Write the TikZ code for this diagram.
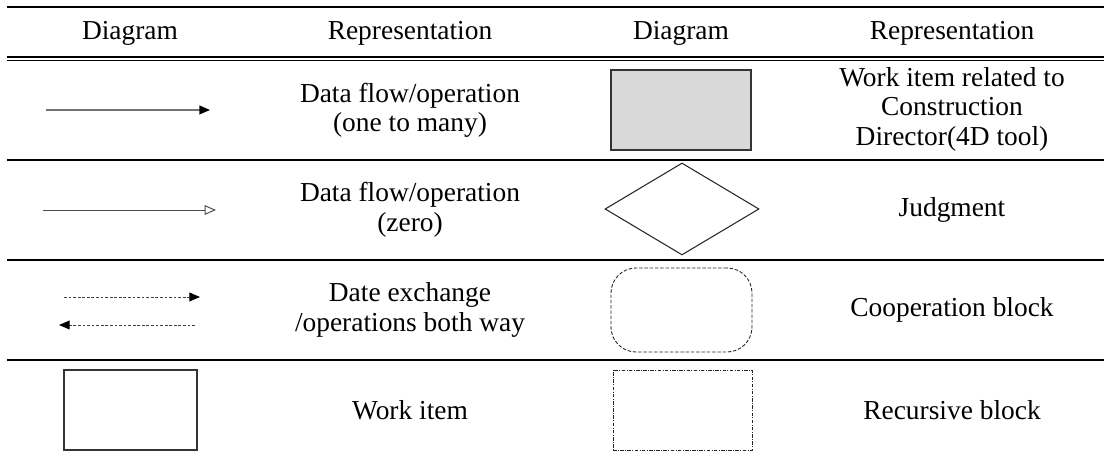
\documentclass[tikz,border=0pt]{standalone}
\usepackage{fontspec}
\setmainfont{Liberation Serif}
\usetikzlibrary{arrows.meta,shapes.geometric}

\tikzset{
  every node/.style={font=\fontsize{15.6}{16.8}\selectfont},
  tablerule/.style={line width=1.1pt},
  flowfull/.style={line width=0.7pt, black!55,
      -{Triangle[color=black, length=6pt, width=5pt]}},
  flowzero/.style={line width=0.55pt, black!70,
      -{Triangle[open, length=6.5pt, width=5.5pt]}},
  flowboth/.style={line width=0.5pt, black!75, dash pattern=on 1.6pt off 1pt,
      -{Triangle[color=black, length=6pt, width=5pt]}},
  itembox/.style={draw=black!80, line width=0.6pt, inner sep=0, outer sep=0},
}

\begin{document}
\begin{tikzpicture}
\useasboundingbox (0,0) rectangle (22.08,9.16);

% rules of the table
\draw[line width=1.4pt] (0.14, 9.02) -- (22.08, 9.02);
\draw[line width=0.8pt] (0.14, 8.02) -- (22.08, 8.02);
\draw[line width=0.8pt] (0.14, 7.95) -- (22.08, 7.95);
\draw[tablerule] (0.14, 5.96) -- (22.08, 5.96);
\draw[tablerule] (0.14, 3.96) -- (22.08, 3.96);
\draw[tablerule] (0.14, 1.96) -- (22.08, 1.96);

% header
\node[anchor=base] (diagA) at ( 2.60, 8.36) {Diagram};
\node[anchor=base] (reprA) at ( 8.20, 8.36) {Representation};
\node[anchor=base] (diagB) at (13.62, 8.36) {Diagram};
\node[anchor=base] (reprB) at (19.04, 8.36) {Representation};

% first row
\coordinate (oneS) at (0.92, 6.96);
\coordinate (oneE) at (4.20, 6.96);
\draw[flowfull] (oneS) -- (oneE);
\node[align=center] (oneT) at (8.20, 6.95) {Data flow/operation\\(one to many)};
\node[itembox, fill=black!15, minimum width=2.80cm, minimum height=1.60cm]
    (cdbox) at (13.62, 6.96) {};
\node[align=center] (cdT) at (19.04, 6.98)
    {Work item related to\\Construction\\Director(4D tool)};

% second row
\coordinate (zeroS) at (0.86, 4.96);
\coordinate (zeroE) at (4.32, 4.96);
\draw[flowzero] (zeroS) -- (zeroE);
\node[align=center] (zeroT) at (8.20, 4.96) {Data flow/operation\\(zero)};
\node[diamond, draw=black!85, line width=0.6pt, inner sep=0,
      minimum width=3.08cm, minimum height=1.84cm] (judge) at (13.64, 4.98) {};
\node (judgeT) at (19.04, 4.96) {Judgment};

% third row
\coordinate (bothA) at (1.28, 3.22);
\coordinate (bothB) at (4.00, 3.22);
\coordinate (bothC) at (3.90, 2.66);
\coordinate (bothD) at (1.18, 2.66);
\draw[flowboth] (bothA) -- (bothB);
\draw[flowboth] (bothC) -- (bothD);
\node[align=center] (bothT) at (8.20, 2.96) {Date exchange\\/operations both way};
\node[itembox, draw=black!85, line width=0.5pt, dash pattern=on 2pt off 1pt,
      rounded corners=0.5cm, minimum width=2.82cm, minimum height=1.68cm]
    (coop) at (13.63, 2.96) {};
\node (coopT) at (19.04, 2.96) {Cooperation block};

% fourth row
\node[itembox, minimum width=2.66cm, minimum height=1.60cm] (work) at (2.61, 0.96) {};
\node (workT) at (8.20, 0.96) {Work item};
\node[itembox, draw=black!85, line width=0.45pt,
      dash pattern=on 2pt off 0.8pt on 0.5pt off 0.8pt,
      minimum width=2.78cm, minimum height=1.60cm] (recur) at (13.65, 0.96) {};
\node (recurT) at (19.04, 0.96) {Recursive block};
\end{tikzpicture}
\end{document}
